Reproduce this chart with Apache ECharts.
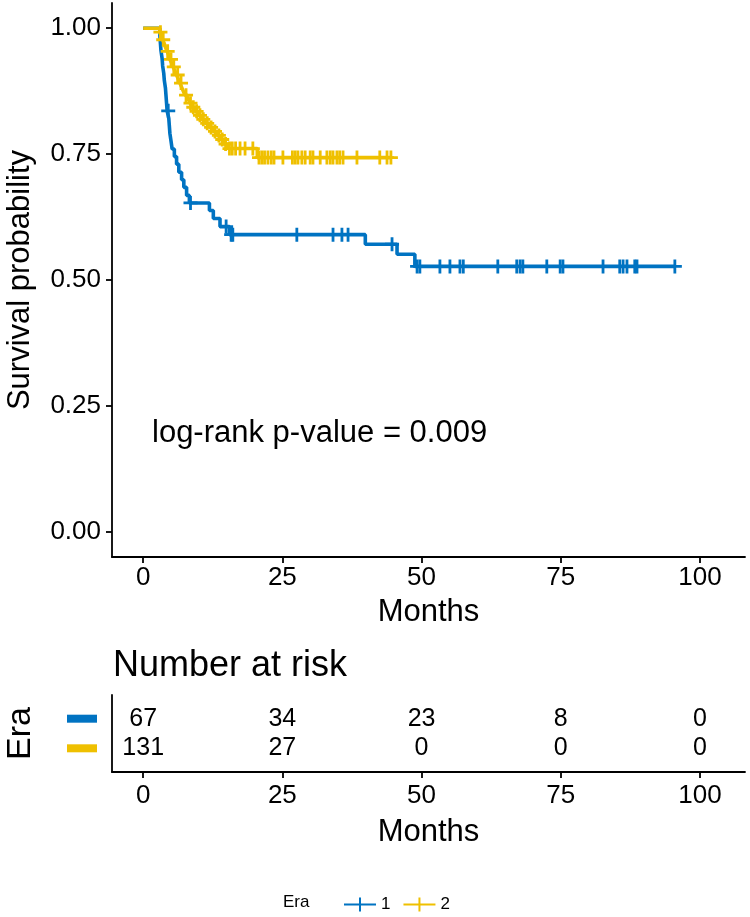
<!DOCTYPE html>
<html><head><meta charset="utf-8">
<script src="https://cdn.jsdelivr.net/npm/echarts@6/dist/echarts.min.js"></script>
<style>html,body{margin:0;padding:0;background:#fff}#c{width:750px;height:917px}</style>
</head><body><div id="c"></div>
<script>
// ---- data ----
const groups = ['1', '2'];
const groupColors = ['#0073C2', '#EFC000'];
const era1Times = [0, 3.0, 3.1, 3.2, 3.4, 3.5, 3.7, 3.8, 4.0, 4.1, 4.2, 4.3, 4.6, 4.7, 4.8, 5.0, 5.2, 5.6, 6.0, 6.4, 6.9, 7.3, 7.8, 8.3, 11.9, 12.6, 13.8, 15.5, 39.9, 45.6, 48.8, 95.5];
const era1Surv = [1, 0.985, 0.970, 0.955, 0.940, 0.925, 0.910, 0.896, 0.881, 0.866, 0.851, 0.836, 0.821, 0.806, 0.791, 0.776, 0.760, 0.745, 0.730, 0.714, 0.699, 0.684, 0.668, 0.653, 0.638, 0.622, 0.606, 0.590, 0.571, 0.551, 0.527, 0.527];
const era1Censor = [4.5, 8.5, 14.9, 15.8, 16.1, 27.6, 34.1, 35.7, 36.8, 44.7, 49.2, 49.7, 53.3, 55.1, 56.9, 57.5, 63.7, 67.1, 67.7, 68.2, 72.5, 74.9, 75.4, 82.6, 85.6, 86.2, 86.9, 88.3, 88.7, 95.5];
const era2Times = [0, 3.0, 3.2, 3.5, 3.8, 4.0, 4.3, 4.6, 4.8, 5.1, 5.4, 5.7, 6.0, 6.3, 6.6, 6.9, 7.2, 7.5, 7.9, 8.3, 8.8, 9.3, 9.9, 10.5, 11.2, 11.9, 12.6, 13.3, 13.9, 14.5, 15.2, 20.5, 44.5];
const era2Surv = [1, 0.992, 0.985, 0.977, 0.969, 0.962, 0.954, 0.946, 0.938, 0.931, 0.923, 0.915, 0.907, 0.899, 0.891, 0.883, 0.875, 0.867, 0.859, 0.851, 0.843, 0.835, 0.827, 0.819, 0.811, 0.803, 0.795, 0.787, 0.779, 0.770, 0.761, 0.743, 0.743];
const era2Censor = [3.1, 3.6, 4.4, 5.0, 5.5, 6.2, 6.8, 7.7, 8.5, 9.0, 9.6, 10.2, 10.8, 11.5, 12.2, 12.9, 13.6, 14.2, 14.8, 15.5, 16.0, 16.6, 17.4, 18.3, 19.7, 20.8, 21.3, 21.8, 22.4, 23.0, 23.5, 25.1, 26.8, 27.3, 27.8, 28.5, 29.1, 30.0, 30.5, 31.8, 33.0, 33.6, 34.1, 34.8, 35.3, 35.9, 38.4, 42.5, 43.8, 44.5];
const xTicks = [0, 25, 50, 75, 100];
const yTicks = [0, 0.25, 0.5, 0.75, 1];
const yTickLabels = ['0.00', '0.25', '0.50', '0.75', '1.00'];
const riskTimes = [0, 25, 50, 75, 100];
const riskEra1 = [67, 34, 23, 8, 0];
const riskEra2 = [131, 27, 0, 0, 0];
const pValueText = 'log-rank p-value = 0.009';

// ---- helpers ----
function survAt(times, surv, t) {
  let s = surv[0];
  for (let i = 0; i < times.length; i++) { if (times[i] <= t) s = surv[i]; }
  return s;
}
const plusSym = 'path://M0,4H10V6H0Z M4,0H6V10H4Z';
const legendIcon = 'path://M0,6H32V8H0Z M15,0H17V14H15Z';
const font = 'Liberation Sans, Arial, sans-serif';
const ink = '#000';
const xMin = -5.6, xMax = 108.1;

const kmSets = [
  { times: era1Times, surv: era1Surv, censor: era1Censor },
  { times: era2Times, surv: era2Surv, censor: era2Censor }
];
const series = [];
kmSets.forEach((k, i) => {
  series.push({
    name: groups[i], type: 'line', step: 'end', xAxisIndex: 0, yAxisIndex: 0,
    data: k.times.map((t, j) => [t, k.surv[j]]),
    showSymbol: false, symbol: 'none', color: groupColors[i],
    lineStyle: { width: 3.6, color: groupColors[i] }, z: 2 + i * 2, animation: false
  });
  series.push({
    name: groups[i], type: 'scatter', xAxisIndex: 0, yAxisIndex: 0,
    data: k.censor.map(t => [t, survAt(k.times, k.surv, t)]),
    symbol: plusSym, symbolSize: 14, color: groupColors[i],
    itemStyle: { color: groupColors[i], opacity: 1 }, z: 3 + i * 2, animation: false
  });
});
const riskRows = [riskEra1, riskEra2];
const riskRowPos = [2, 1];
riskRows.forEach((row, i) => {
  series.push({
    type: 'scatter', xAxisIndex: 1, yAxisIndex: 1, symbolSize: 0, silent: true,
    itemStyle: { opacity: 1 },
    data: riskTimes.map((t, j) => [t, riskRowPos[i], row[j]]),
    label: { show: true, position: 'inside', formatter: p => String(p.value[2]),
      fontSize: 25, fontFamily: font, color: ink, opacity: 1 },
    animation: false
  });
});

const axisLine = { show: true, onZero: false, lineStyle: { color: ink, width: 1.8 } };
const axisTick = { show: true, length: 6, lineStyle: { color: ink, width: 1.8 } };

const chart = echarts.init(document.getElementById('c'), null, { renderer: 'canvas' });
chart.setOption({
  backgroundColor: '#fff',
  animation: false,
  grid: [
    { left: 112, right: 5, top: 3, height: 554, containLabel: false, outerBoundsMode: 'none' },
    { left: 112, right: 5, top: 695, height: 77, containLabel: false, outerBoundsMode: 'none' }
  ],
  xAxis: [
    { type: 'value', gridIndex: 0, min: xMin, max: xMax,
      axisLine, axisTick: Object.assign({ customValues: xTicks }, axisTick),
      axisLabel: { customValues: xTicks, fontSize: 26, fontFamily: font, color: ink, margin: 8 },
      splitLine: { show: false },
      name: 'Months', nameLocation: 'middle', nameGap: 40,
      nameTextStyle: { fontSize: 31, fontFamily: font, color: ink } },
    { type: 'value', gridIndex: 1, min: xMin, max: xMax,
      axisLine, axisTick: Object.assign({ customValues: xTicks }, axisTick),
      axisLabel: { customValues: xTicks, fontSize: 26, fontFamily: font, color: ink, margin: 11 },
      splitLine: { show: false },
      name: 'Months', nameLocation: 'middle', nameGap: 45,
      nameTextStyle: { fontSize: 31, fontFamily: font, color: ink } }
  ],
  yAxis: [
    { type: 'value', gridIndex: 0, min: -0.05, max: 1.05,
      axisLine, axisTick: Object.assign({ customValues: yTicks }, axisTick),
      axisLabel: { customValues: yTicks, fontSize: 26, fontFamily: font, color: ink, margin: 11,
        formatter: v => yTickLabels[yTicks.indexOf(v)] },
      splitLine: { show: false },
      name: 'Survival probability', nameLocation: 'middle', nameGap: 76, nameRotate: 90,
      nameTextStyle: { fontSize: 31, fontFamily: font, color: ink } },
    { type: 'value', gridIndex: 1, min: 0.2, max: 2.8,
      axisLine, axisTick: { show: false },
      axisLabel: { customValues: riskRowPos, margin: 15,
        formatter: v => '{g' + riskRowPos.indexOf(v) + '|}',
        rich: {
          g0: { backgroundColor: groupColors[0], width: 30, height: 8 },
          g1: { backgroundColor: groupColors[1], width: 30, height: 8 }
        } },
      splitLine: { show: false },
      name: 'Era', nameLocation: 'middle', nameGap: 74, nameRotate: 90,
      nameTextStyle: { fontSize: 34, fontFamily: font, color: ink } }
  ],
  legend: {
    data: groups.map(g => ({ name: g, icon: legendIcon })),
    left: 339, top: 891, itemWidth: 32, itemHeight: 14, itemGap: 13,
    textStyle: { fontSize: 17, fontFamily: font, color: ink },
    selectedMode: false
  },
  graphic: [
    { type: 'text', left: 152, top: 418,
      style: { text: pValueText, fontSize: 31, fontFamily: font, fill: ink } },
    { type: 'text', left: 113, top: 648,
      style: { text: 'Number at risk', fontSize: 36, fontFamily: font, fill: ink } },
    { type: 'text', left: 283, top: 894,
      style: { text: 'Era', fontSize: 17, fontFamily: font, fill: ink } }
  ],
  series
});
</script>
</body></html>
